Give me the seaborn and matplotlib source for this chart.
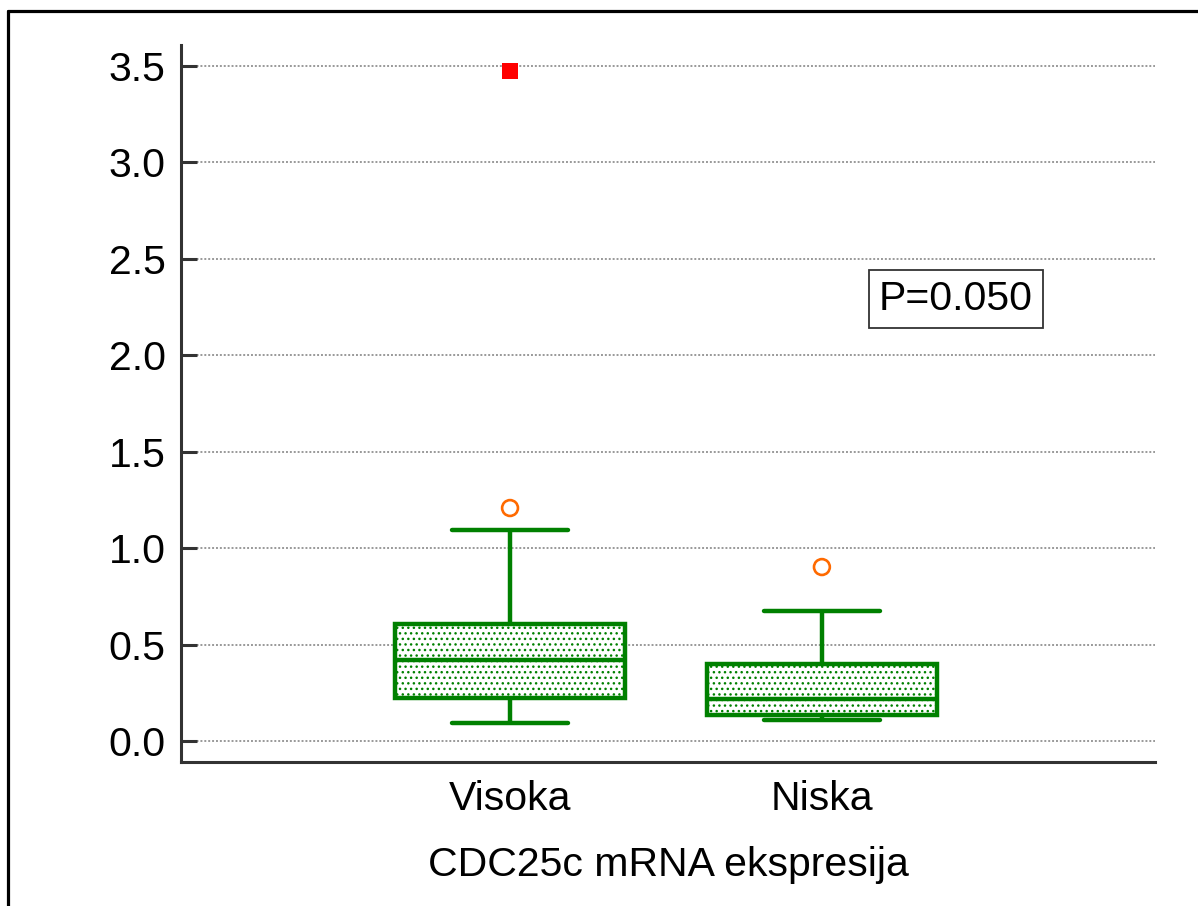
import numpy as np
import pandas as pd
import seaborn as sns
import matplotlib.pyplot as plt
from matplotlib.lines import Line2D

# ---- data ----
categories = ["Visoka", "Niska"]
visoka_values = [0.093, 0.15, 0.223, 0.33, 0.42, 0.52, 0.607, 0.85, 1.094]
niska_values = [0.109, 0.12, 0.135, 0.18, 0.218, 0.30, 0.40, 0.55, 0.674]
outlier_cats = ["Visoka", "Niska"]
outlier_values = [1.208, 0.902]
far_outlier_cats = ["Visoka"]
far_outlier_values = [3.474]
y_ticks = [0.0, 0.5, 1.0, 1.5, 2.0, 2.5, 3.0, 3.5]
y_tick_labels = ["0.0", "0.5", "1.0", "1.5", "2.0", "2.5", "3.0", "3.5"]
x_label = "CDC25c mRNA ekspresija"
p_text = "P=0.050"

sns.set_theme(style="white")
plt.rcParams["font.family"] = ["Liberation Sans", "DejaVu Sans"]
plt.rcParams["hatch.linewidth"] = 1.0

df = pd.DataFrame({
    "group": ["Visoka"] * len(visoka_values) + ["Niska"] * len(niska_values),
    "value": visoka_values + niska_values,
})

fig = plt.figure(figsize=(11.98, 9.06), dpi=100)
ax = fig.add_axes([181 / 1198, 1 - 762 / 906, (1155 - 181) / 1198, (762 - 45) / 906])

green = "#008000"
sns.boxplot(data=df, x="group", y="value", order=categories, whis=(0, 100),
            width=0.74, showfliers=False, color="white", linecolor=green,
            linewidth=3.2, ax=ax, zorder=3)
for p in ax.patches:
    p.set_facecolor("white")
    p.set_hatch("...")

pos = {c: i for i, c in enumerate(categories)}
sns.scatterplot(x=[pos[c] for c in outlier_cats], y=outlier_values, marker="o",
                s=130, facecolor="none", edgecolor="#FF6A00", linewidth=1.9,
                ax=ax, zorder=4)
sns.scatterplot(x=[pos[c] for c in far_outlier_cats], y=far_outlier_values, marker="s",
                s=130, color="#FF0000", edgecolor="#FF0000", linewidth=0,
                ax=ax, zorder=4)

ax.set_xlim(-1.055, 2.068)
ax.set_ylim(-0.109, 3.609)
ax.set_yticks(y_ticks)
ax.set_yticklabels(y_tick_labels)
ax.yaxis.grid(True, color="#999999", linestyle=(0, (1, 1)), linewidth=1.4, zorder=0)
ax.xaxis.grid(False)
ax.set_axisbelow(True)

for s in ["top", "right"]:
    ax.spines[s].set_visible(False)
for s in ["left", "bottom"]:
    ax.spines[s].set_color("#333333")
    ax.spines[s].set_linewidth(2.2)

fs = 29.5
ax.tick_params(axis="y", direction="in", length=11.5, width=2.2, color="#333333",
               pad=11, labelsize=fs, labelcolor="black", left=True)
ax.tick_params(axis="x", length=0, pad=13, labelsize=fs, labelcolor="black")
ax.set_xlabel(x_label, fontsize=fs, color="black", labelpad=20)
ax.set_ylabel("")

ax.text(0.7957, 0.6457, p_text, transform=ax.transAxes, ha="center", va="center",
        fontsize=fs, color="black", zorder=5,
        bbox=dict(boxstyle="square,pad=0.25", facecolor="white",
                  edgecolor="#333333", linewidth=1.3))

# figure frame (top and left edges visible)
fig.add_artist(Line2D([8 / 1198, 8 / 1198], [0, 1 - 10.5 / 906],
                      transform=fig.transFigure, color="black", linewidth=2.3))
fig.add_artist(Line2D([8 / 1198, 1], [1 - 10.5 / 906, 1 - 10.5 / 906],
                      transform=fig.transFigure, color="black", linewidth=2.3))

fig.savefig("out.png", dpi=100)
